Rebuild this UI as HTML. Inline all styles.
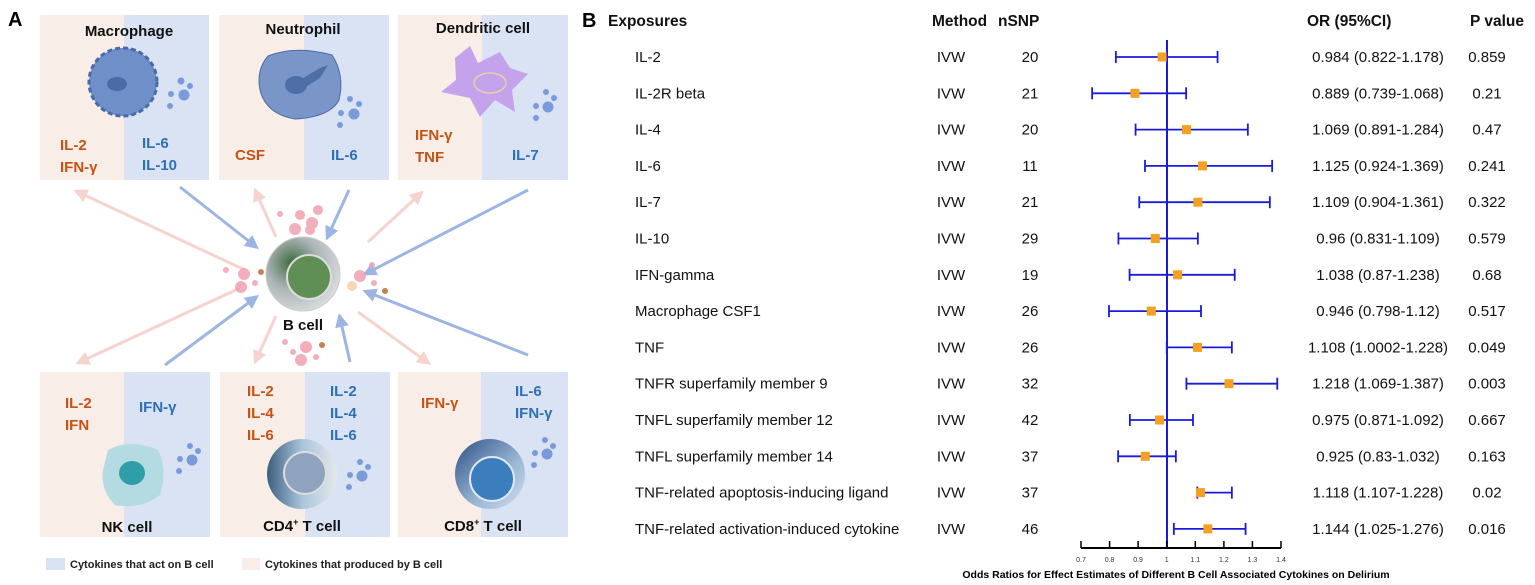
<!DOCTYPE html>
<html><head><meta charset="utf-8"><style>
body{margin:0;background:#fff;}
svg{display:block;font-family:"Liberation Sans",sans-serif;}
.bt{font-weight:bold;font-size:15px;fill:#111;}
.o{fill:#c65213;font-weight:bold;font-size:15px;}
.b{fill:#2f6fb5;font-weight:bold;font-size:15px;}
.r{font-size:15px;fill:#111;}
.h{font-size:15.5px;font-weight:bold;fill:#111;}
</style></head><body>
<svg width="1535" height="585" viewBox="0 0 1535 585">
<defs>
<marker id="pa" markerWidth="14" markerHeight="14" refX="9" refY="7" orient="auto" markerUnits="userSpaceOnUse"><path d="M0,0 L14,7 L0,14 z" fill="#f6d3cd"/></marker>
<marker id="ba" markerWidth="14" markerHeight="14" refX="9" refY="7" orient="auto" markerUnits="userSpaceOnUse"><path d="M0,0 L14,7 L0,14 z" fill="#9db5e2"/></marker>
<radialGradient id="bg1" cx="0.35" cy="0.35" r="0.7"><stop offset="0" stop-color="#3d6b3e"/><stop offset="0.5" stop-color="#aab3b5"/><stop offset="1" stop-color="#d8dcdd"/></radialGradient>
<linearGradient id="cd4" x1="0" x2="1"><stop offset="0" stop-color="#3c5f80"/><stop offset="0.5" stop-color="#a9c4dc"/><stop offset="1" stop-color="#e4e8ea"/></linearGradient>
<linearGradient id="cd8" x1="0" y1="0" x2="1" y2="1"><stop offset="0" stop-color="#2e4f86"/><stop offset="0.6" stop-color="#9ab7d4"/><stop offset="1" stop-color="#cfe0ef"/></linearGradient>
</defs>
<text x="8" y="26" font-size="20" font-weight="bold">A</text>
<g>
<rect x="40" y="15" width="84" height="165" fill="#f8ede7"/><rect x="124" y="15" width="85" height="165" fill="#d9e3f4"/>
<rect x="219" y="15" width="85" height="165" fill="#f8ede7"/><rect x="304" y="15" width="85" height="165" fill="#d9e3f4"/>
<rect x="398" y="15" width="84" height="165" fill="#f8ede7"/><rect x="482" y="15" width="86" height="165" fill="#d9e3f4"/>
<rect x="40" y="372" width="84" height="165" fill="#f8ede7"/><rect x="124" y="372" width="86" height="165" fill="#d9e3f4"/>
<rect x="220" y="372" width="85" height="165" fill="#f8ede7"/><rect x="305" y="372" width="85" height="165" fill="#d9e3f4"/>
<rect x="398" y="372" width="83" height="165" fill="#f8ede7"/><rect x="481" y="372" width="87" height="165" fill="#d9e3f4"/>
</g>
<text class="bt" x="129" y="36" text-anchor="middle">Macrophage</text>
<text class="bt" x="303" y="34" text-anchor="middle">Neutrophil</text>
<text class="bt" x="483" y="33" text-anchor="middle">Dendritic cell</text>
<circle cx="123" cy="82" r="34" fill="#6e8fc8" stroke="#4a6aa8" stroke-width="3" stroke-dasharray="5 3"/>
<ellipse cx="117" cy="84" rx="10" ry="7" fill="#4a6aa8"/>
<g fill="#7a9ada"><circle cx="181" cy="81" r="3.5"/><circle cx="190" cy="86" r="3"/><circle cx="184" cy="95" r="5.5"/><circle cx="171" cy="94" r="3"/><circle cx="170" cy="106" r="3"/></g>
<path d="M268,56 Q295,45 332,55 Q345,75 339,100 Q330,117 295,119 Q266,114 260,90 Q256,70 268,56z" fill="#7a96c9" stroke="#4a6aa8"/>
<ellipse cx="296" cy="85" rx="11" ry="9" fill="#4e6ea8"/><path d="M300,80 L320,68 L328,65 L320,78 L304,88z" fill="#4e6ea8"/>
<g fill="#7a9ada"><circle cx="350" cy="99" r="3"/><circle cx="359" cy="104" r="3"/><circle cx="354" cy="114" r="5.5"/><circle cx="341" cy="113" r="3"/><circle cx="340" cy="125" r="3"/></g>
<path d="M455,58 L470,46 L478,63 L500,52 L510,68 L528,74 L512,90 L515,112 L495,100 L480,117 L470,98 L441,92 L456,80z" fill="#c5a3ec"/>
<ellipse cx="490" cy="83" rx="16" ry="10" fill="none" stroke="#e8cfa8" stroke-width="1.5"/>
<g fill="#7a9ada"><circle cx="546" cy="92" r="3"/><circle cx="554" cy="98" r="3"/><circle cx="548" cy="107" r="5.5"/><circle cx="536" cy="106" r="3"/><circle cx="536" cy="118" r="3"/></g>
<text class="o" x="60" y="150">IL-2</text><text class="o" x="60" y="172">IFN-γ</text>
<text class="b" x="142" y="148">IL-6</text><text class="b" x="142" y="170">IL-10</text>
<text class="o" x="235" y="160">CSF</text><text class="b" x="331" y="160">IL-6</text>
<text class="o" x="415" y="140">IFN-γ</text><text class="o" x="415" y="162">TNF</text>
<text class="b" x="512" y="160">IL-7</text>
<g stroke-width="3" fill="none">
<line x1="245" y1="270" x2="78" y2="192" stroke="#f6d3cd" marker-end="url(#pa)"/>
<line x1="180" y1="187" x2="255" y2="246" stroke="#9db5e2" marker-end="url(#ba)"/>
<line x1="276" y1="237" x2="256" y2="192" stroke="#f6d3cd" marker-end="url(#pa)"/>
<line x1="349" y1="190" x2="328" y2="236" stroke="#9db5e2" marker-end="url(#ba)"/>
<line x1="368" y1="242" x2="420" y2="194" stroke="#f6d3cd" marker-end="url(#pa)"/>
<line x1="528" y1="190" x2="367" y2="273" stroke="#9db5e2" marker-end="url(#ba)"/>
<line x1="240" y1="288" x2="80" y2="362" stroke="#f6d3cd" marker-end="url(#pa)"/>
<line x1="165" y1="365" x2="255" y2="298" stroke="#9db5e2" marker-end="url(#ba)"/>
<line x1="276" y1="316" x2="256" y2="360" stroke="#f6d3cd" marker-end="url(#pa)"/>
<line x1="350" y1="362" x2="340" y2="318" stroke="#9db5e2" marker-end="url(#ba)"/>
<line x1="358" y1="312" x2="427" y2="362" stroke="#f6d3cd" marker-end="url(#pa)"/>
<line x1="528" y1="355" x2="367" y2="292" stroke="#9db5e2" marker-end="url(#ba)"/>
</g>
<g fill="#f0a0b0" opacity="0.85">
<circle cx="300" cy="215" r="5"/><circle cx="312" cy="223" r="6"/><circle cx="295" cy="229" r="6"/><circle cx="318" cy="210" r="5"/><circle cx="280" cy="214" r="3"/><circle cx="310" cy="230" r="5"/>
<circle cx="244" cy="274" r="6"/><circle cx="241" cy="287" r="6"/><circle cx="255" cy="283" r="3"/><circle cx="226" cy="270" r="3"/>
<circle cx="360" cy="276" r="6"/><circle cx="372" cy="265" r="3"/><circle cx="374" cy="283" r="3"/>
<circle cx="306" cy="347" r="6"/><circle cx="301" cy="360" r="6"/><circle cx="316" cy="357" r="3"/><circle cx="285" cy="342" r="3"/><circle cx="293" cy="352" r="3"/>
</g>
<g fill="#c97f4f"><circle cx="261" cy="272" r="3"/><circle cx="385" cy="291" r="3"/><circle cx="322" cy="345" r="3"/></g>
<circle cx="352" cy="286" r="5" fill="#f8d5b8"/>
<circle cx="303" cy="274" r="37" fill="url(#bg1)" stroke="#ccc"/>
<circle cx="309" cy="277" r="22" fill="#5f8f55" stroke="#ddd" stroke-width="2"/>
<text class="bt" x="303" y="330" text-anchor="middle">B cell</text>
<path d="M108,450 Q130,438 158,450 Q168,470 160,495 Q140,510 115,505 Q100,490 103,470z" fill="#b5dbe2"/>
<ellipse cx="132" cy="473" rx="13" ry="12" fill="#2f9ea9"/>
<g fill="#7a9ada"><circle cx="190" cy="446" r="3"/><circle cx="198" cy="451" r="3"/><circle cx="192" cy="460" r="5.5"/><circle cx="180" cy="459" r="3"/><circle cx="179" cy="471" r="3"/></g>
<circle cx="302" cy="474" r="35" fill="url(#cd4)"/>
<circle cx="305" cy="473" r="21" fill="#8fa3bf" stroke="#ddd" stroke-width="2"/>
<g fill="#7a9ada"><circle cx="360" cy="462" r="3"/><circle cx="368" cy="467" r="3"/><circle cx="362" cy="476" r="5.5"/><circle cx="350" cy="475" r="3"/><circle cx="349" cy="487" r="3"/></g>
<circle cx="490" cy="474" r="35" fill="url(#cd8)"/>
<circle cx="492" cy="479" r="22" fill="#3b7dbd" stroke="#e0e8ee" stroke-width="2"/>
<g fill="#7a9ada"><circle cx="545" cy="440" r="3"/><circle cx="553" cy="446" r="3"/><circle cx="547" cy="454" r="5.5"/><circle cx="535" cy="453" r="3"/><circle cx="534" cy="465" r="3"/></g>
<text class="o" x="65" y="408">IL-2</text><text class="o" x="65" y="430">IFN</text>
<text class="b" x="139" y="412">IFN-γ</text>
<text class="o" x="247" y="396">IL-2</text><text class="o" x="247" y="418">IL-4</text><text class="o" x="247" y="440">IL-6</text>
<text class="b" x="330" y="396">IL-2</text><text class="b" x="330" y="418">IL-4</text><text class="b" x="330" y="440">IL-6</text>
<text class="o" x="421" y="408">IFN-γ</text>
<text class="b" x="515" y="396">IL-6</text><text class="b" x="515" y="418">IFN-γ</text>
<text class="bt" x="127" y="532" text-anchor="middle">NK cell</text>
<text class="bt" x="302" y="531" text-anchor="middle">CD4<tspan font-size="9" dy="-6">+</tspan><tspan dy="6"> T cell</tspan></text>
<text class="bt" x="483" y="531" text-anchor="middle">CD8<tspan font-size="9" dy="-6">+</tspan><tspan dy="6"> T cell</tspan></text>
<rect x="46" y="558" width="19" height="12" fill="#d9e3f4"/><text x="70" y="568" font-size="11" font-weight="bold" fill="#222">Cytokines that act on B cell</text>
<rect x="242" y="558" width="18" height="12" fill="#f8ede7"/><text x="265" y="568" font-size="11" font-weight="bold" fill="#222">Cytokines that produced by B cell</text>

<text x="582" y="27" font-size="20" font-weight="bold">B</text>
<text class="h" x="608" y="26">Exposures</text>
<text class="h" x="932" y="26">Method</text>
<text class="h" x="998" y="26">nSNP</text>
<text class="h" x="1307" y="26">OR (95%CI)</text>
<text class="h" x="1470" y="26">P value</text>
<line x1="1167" y1="40" x2="1167" y2="548" stroke="#1a1adb" stroke-width="2"/>
<g id="rows"></g>
<line x1="1081" y1="548" x2="1281" y2="548" stroke="#000" stroke-width="2"/>
<g stroke="#000" stroke-width="1.5">
<line x1="1081" y1="541" x2="1081" y2="548"/><line x1="1109.6" y1="541" x2="1109.6" y2="548"/><line x1="1138.1" y1="541" x2="1138.1" y2="548"/><line x1="1166.7" y1="541" x2="1166.7" y2="548"/><line x1="1195.3" y1="541" x2="1195.3" y2="548"/><line x1="1223.9" y1="541" x2="1223.9" y2="548"/><line x1="1252.4" y1="541" x2="1252.4" y2="548"/><line x1="1281" y1="541" x2="1281" y2="548"/>
</g>
<g font-size="7" fill="#333" text-anchor="middle">
<text x="1081" y="562">0.7</text><text x="1109.6" y="562">0.8</text><text x="1138.1" y="562">0.9</text><text x="1166.7" y="562">1</text><text x="1195.3" y="562">1.1</text><text x="1223.9" y="562">1.2</text><text x="1252.4" y="562">1.3</text><text x="1281" y="562">1.4</text>
</g>
<text x="1176" y="578" font-size="10.5" font-weight="bold" text-anchor="middle">Odds Ratios for Effect Estimates of Different B Cell Associated Cytokines on Delirium</text>
</svg>
<script>
var d=[["IL-2",20,.984,.822,1.178,"0.984 (0.822-1.178)","0.859"],
["IL-2R beta",21,.889,.739,1.068,"0.889 (0.739-1.068)","0.21"],
["IL-4",20,1.069,.891,1.284,"1.069 (0.891-1.284)","0.47"],
["IL-6",11,1.125,.924,1.369,"1.125 (0.924-1.369)","0.241"],
["IL-7",21,1.109,.904,1.361,"1.109 (0.904-1.361)","0.322"],
["IL-10",29,.96,.831,1.109,"0.96 (0.831-1.109)","0.579"],
["IFN-gamma",19,1.038,.87,1.238,"1.038 (0.87-1.238)","0.68"],
["Macrophage CSF1",26,.946,.798,1.12,"0.946 (0.798-1.12)","0.517"],
["TNF",26,1.108,1.0002,1.228,"1.108 (1.0002-1.228)","0.049"],
["TNFR superfamily member 9",32,1.218,1.069,1.387,"1.218 (1.069-1.387)","0.003"],
["TNFL superfamily member 12",42,.975,.871,1.092,"0.975 (0.871-1.092)","0.667"],
["TNFL superfamily member 14",37,.925,.83,1.032,"0.925 (0.83-1.032)","0.163"],
["TNF-related apoptosis-inducing ligand",37,1.118,1.107,1.228,"1.118 (1.107-1.228)","0.02"],
["TNF-related activation-induced cytokine",46,1.144,1.025,1.276,"1.144 (1.025-1.276)","0.016"]];
var g=document.getElementById("rows"),s="";
function X(v){return 1081+(v-0.7)*285.7;}
d.forEach(function(r,i){var y=57+i*36.3;
s+='<text class="r" x="635" y="'+(y+5)+'">'+r[0]+'</text>';
s+='<text class="r" x="951" y="'+(y+5)+'" text-anchor="middle">IVW</text>';
s+='<text class="r" x="1030" y="'+(y+5)+'" text-anchor="middle">'+r[1]+'</text>';
s+='<text class="r" x="1378" y="'+(y+5)+'" text-anchor="middle">'+r[5]+'</text>';
s+='<text class="r" x="1487" y="'+(y+5)+'" text-anchor="middle">'+r[6]+'</text>';
var a=X(r[3]),b=X(r[4]),c=X(r[2]);
s+='<g stroke="#1a1adb" stroke-width="1.8"><line x1="'+a+'" y1="'+y+'" x2="'+b+'" y2="'+y+'"/><line x1="'+a+'" y1="'+(y-6)+'" x2="'+a+'" y2="'+(y+6)+'"/><line x1="'+b+'" y1="'+(y-6)+'" x2="'+b+'" y2="'+(y+6)+'"/></g>';
s+='<rect x="'+(c-4.5)+'" y="'+(y-4.5)+'" width="9" height="9" fill="#f5a020"/>';});
g.innerHTML=s;
</script>
</body></html>
